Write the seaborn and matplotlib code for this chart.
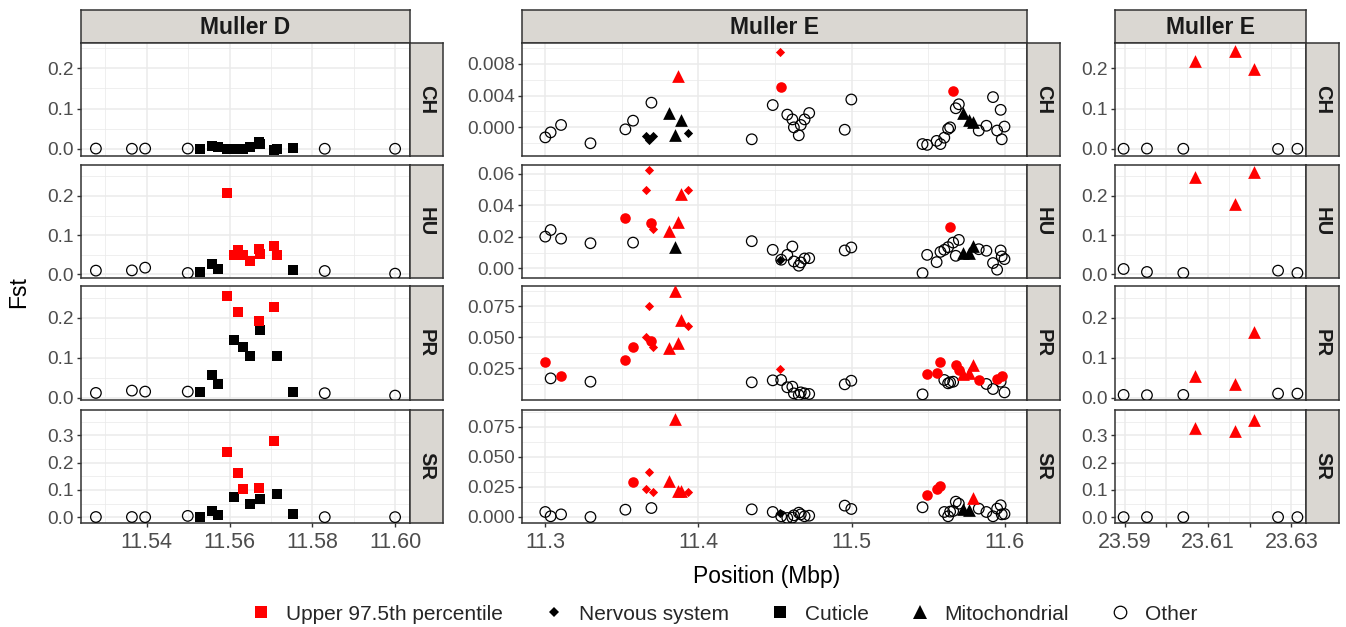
import numpy as np
import pandas as pd
import matplotlib
matplotlib.use("Agg")
import matplotlib.pyplot as plt
import seaborn as sns
from matplotlib.lines import Line2D

sns.set_theme(style="white")
plt.rcParams["font.family"] = ["Liberation Sans", "DejaVu Sans"]

populations = ["CH", "HU", "PR", "SR"]
legend_labels = ["Upper 97.5th percentile", "Nervous system", "Cuticle", "Mitochondrial", "Other"]
column_titles = ["Muller D", "Muller E", "Muller E"]

# ---------------- Muller D (first column) ----------------
d_pos = [11.5277, 11.5364, 11.5396, 11.5499, 11.5529, 11.5558, 11.5573, 11.5594,
         11.5611, 11.5621, 11.5633, 11.5649, 11.5670, 11.5674, 11.5707, 11.5715,
         11.5753, 11.5830, 11.6000]
d_type = ["O", "O", "O", "O", "C", "C", "C", "C", "C", "C", "C", "C", "C", "C", "C", "C", "C", "O", "O"]
d_fst_ch = [0.001, 0.0005, 0.001, 0.001, 0.000, 0.0075, 0.004, 0.001, 0.001, 0.000, 0.001,
            0.004, 0.0165, 0.012, -0.002, 0.000, 0.002, 0.0005, 0.0005]
d_fst_hu = [0.0094, 0.010, 0.017, 0.0034, 0.006, 0.0255, 0.0128, 0.2085, 0.050, 0.063, 0.050,
            0.033, 0.0647, 0.053, 0.073, 0.0485, 0.010, 0.0085, 0.0017]
d_fst_pr = [0.0117, 0.0175, 0.015, 0.015, 0.015, 0.057, 0.034, 0.254, 0.144, 0.213, 0.1275,
            0.105, 0.192, 0.169, 0.227, 0.103, 0.014, 0.011, 0.005]
d_fst_sr = [0.001, 0.001, 0.0005, 0.005, 0.001, 0.024, 0.007, 0.239, 0.074, 0.163, 0.105,
            0.050, 0.108, 0.068, 0.278, 0.087, 0.012, 0.0005, 0.0005]
d_top_ch = [0, 0, 0, 0, 0, 0, 0, 0, 0, 0, 0, 0, 0, 0, 0, 0, 0, 0, 0]
d_top_hu = [0, 0, 0, 0, 0, 0, 0, 1, 1, 1, 1, 1, 1, 1, 1, 1, 0, 0, 0]
d_top_pr = [0, 0, 0, 0, 0, 0, 0, 1, 0, 1, 0, 0, 1, 0, 1, 0, 0, 0, 0]
d_top_sr = [0, 0, 0, 0, 0, 0, 0, 1, 0, 1, 1, 0, 1, 0, 1, 0, 0, 0, 0]

# ---------------- Muller E, 11.3-11.6 Mbp (second column) ----------------
e1_pos = [11.3000, 11.3035, 11.3103, 11.3295, 11.3523, 11.3573, 11.3693, 11.3660, 11.3675,
          11.3705, 11.3810, 11.3845, 11.3868, 11.3888, 11.3930, 11.4348, 11.4485, 11.4535,
          11.4540, 11.4580, 11.4613, 11.4623, 11.4655, 11.4668, 11.4693, 11.4723, 11.4955,
          11.4998, 11.5463, 11.5493, 11.5555, 11.5580, 11.5605, 11.5630, 11.5643, 11.5663,
          11.5680, 11.5700, 11.5730, 11.5768, 11.5793, 11.5830, 11.5880, 11.5923, 11.5950,
          11.5973, 11.5980, 11.5998]
e1_type = ["O", "O", "O", "O", "O", "O", "O", "N", "N", "N", "M", "M", "M", "M", "N", "O",
           "O", "N", "O", "O", "O", "O", "O", "O", "O", "O", "O", "O", "O", "O", "O", "O",
           "O", "O", "O", "O", "O", "O", "M", "M", "M", "O", "O", "O", "O", "O", "O", "O"]
e1_fst_ch = [-0.00126, -0.00063, 0.0003, -0.002, -0.00025, 0.00084, 0.0031, -0.0011, -0.0016,
             -0.0011, 0.0018, -0.0009, 0.0064, 0.0009, -0.0007, -0.0015, 0.0028, 0.0095,
             0.0051, 0.0016, 0.0010, 0.0000, -0.0010, 0.0003, 0.0010, 0.0018, -0.0003, 0.0035,
             -0.0021, -0.0022, -0.0017, -0.0021, -0.0013, -0.0002, 0.0000, 0.0046, 0.0024,
             0.0029, 0.0018, 0.0009, 0.0007, -0.0004, 0.0002, 0.0038, -0.0004, 0.0022,
             -0.0015, 0.0001]
e1_fst_hu = [0.0202, 0.0244, 0.0189, 0.0160, 0.0318, 0.0164, 0.0290, 0.0497, 0.0623, 0.0250,
             0.0240, 0.0135, 0.0293, 0.0470, 0.0500, 0.0173, 0.0118, 0.0055, 0.0055, 0.0086,
             0.0139, 0.0044, 0.0017, 0.0038, 0.0063, 0.0065, 0.0114, 0.0133, -0.0030, 0.0086,
             0.0040, 0.0105, 0.0118, 0.0135, 0.0265, 0.0164, 0.0080, 0.0181, 0.0097, 0.0097,
             0.0143, 0.0122, 0.0112, 0.0034, -0.0008, 0.0114, 0.0076, 0.0059]
e1_fst_pr = [0.0298, 0.0169, 0.0191, 0.0142, 0.0315, 0.0425, 0.0473, 0.0500, 0.0756, 0.0420,
             0.0417, 0.0874, 0.0452, 0.0640, 0.0594, 0.0137, 0.0153, 0.0245, 0.0156, 0.0097,
             0.0102, 0.0048, 0.0035, 0.0056, 0.0048, 0.0043, 0.0121, 0.0150, 0.0040, 0.0202,
             0.0215, 0.0298, 0.0156, 0.0129, 0.0137, 0.0142, 0.0277, 0.0237, 0.0202, 0.0210,
             0.0277, 0.0156, 0.0124, 0.0083, 0.0161, 0.0142, 0.0191, 0.0056]
e1_fst_sr = [0.0039, 0.0003, 0.0019, -0.0003, 0.0058, 0.0286, 0.0072, 0.0234, 0.0375, 0.0206,
             0.0295, 0.0812, 0.0217, 0.0217, 0.0206, 0.0061, 0.0039, 0.0030, 0.0003, -0.0011,
             -0.0008, 0.0011, 0.0033, 0.0019, 0.0003, 0.0008, 0.0092, 0.0064, 0.0078, 0.0178,
             0.0230, 0.0253, 0.0039, 0.0003, 0.0042, 0.0047, 0.0125, 0.0108, 0.0067, 0.0058,
             0.0158, 0.0067, 0.0039, 0.0003, 0.0067, 0.0095, 0.0019, 0.0022]
e1_top_ch = [0, 0, 0, 0, 0, 0, 0, 0, 0, 0, 0, 0, 1, 0, 0, 0, 0, 1, 1, 0, 0, 0, 0, 0,
             0, 0, 0, 0, 0, 0, 0, 0, 0, 0, 0, 1, 0, 0, 0, 0, 0, 0, 0, 0, 0, 0, 0, 0]
e1_top_hu = [0, 0, 0, 0, 1, 0, 1, 1, 1, 1, 1, 0, 1, 1, 1, 0, 0, 0, 0, 0, 0, 0, 0, 0,
             0, 0, 0, 0, 0, 0, 0, 0, 0, 0, 1, 0, 0, 0, 0, 0, 0, 0, 0, 0, 0, 0, 0, 0]
e1_top_pr = [1, 0, 1, 0, 1, 1, 1, 1, 1, 1, 1, 1, 1, 1, 1, 0, 0, 1, 0, 0, 0, 0, 0, 0,
             0, 0, 0, 0, 0, 1, 1, 1, 0, 0, 0, 0, 1, 1, 1, 1, 1, 1, 0, 0, 1, 0, 1, 0]
e1_top_sr = [0, 0, 0, 0, 0, 1, 0, 1, 1, 1, 1, 1, 1, 1, 1, 0, 0, 0, 0, 0, 0, 0, 0, 0,
             0, 0, 0, 0, 0, 1, 1, 1, 0, 0, 0, 0, 0, 0, 0, 0, 1, 0, 0, 0, 0, 0, 0, 0]

# ---------------- Muller E, 23.59-23.63 Mbp (third column) ----------------
e2_pos = [23.58976, 23.59536, 23.60408, 23.60696, 23.61656, 23.62104, 23.62680, 23.63144]
e2_type = ["O", "O", "O", "M", "M", "M", "O", "O"]
e2_fst_ch = [0.0005, 0.0010, 0.0005, 0.218, 0.241, 0.198, 0.0000, 0.0005]
e2_fst_hu = [0.0136, 0.0060, 0.0034, 0.2485, 0.179, 0.261, 0.0094, 0.0034]
e2_fst_pr = [0.0067, 0.0060, 0.0067, 0.0536, 0.035, 0.163, 0.0100, 0.0100]
e2_fst_sr = [0.0005, 0.0005, 0.0005, 0.326, 0.315, 0.358, 0.0005, 0.0005]
e2_top_ch = [0, 0, 0, 1, 1, 1, 0, 0]
e2_top_hu = [0, 0, 0, 1, 1, 1, 0, 0]
e2_top_pr = [0, 0, 0, 1, 1, 1, 0, 0]
e2_top_sr = [0, 0, 0, 1, 1, 1, 0, 0]

# tick labels
d_xticks = [11.54, 11.56, 11.58, 11.60]
d_xlabels = ["11.54", "11.56", "11.58", "11.60"]
e1_xticks = [11.3, 11.4, 11.5, 11.6]
e1_xlabels = ["11.3", "11.4", "11.5", "11.6"]
e2_xticks = [23.59, 23.60, 23.61, 23.62, 23.63]
e2_xlabels = ["23.59", "", "23.61", "", "23.63"]

# ---------------- assemble long tables ----------------
def long_table(pos, typ, fst_lists, top_lists):
    frames = []
    for pop, f, t in zip(populations, fst_lists, top_lists):
        frames.append(pd.DataFrame({"pos": pos, "type": typ, "fst": f, "top": t, "pop": pop}))
    return pd.concat(frames, ignore_index=True)

tables = [
    long_table(d_pos, d_type, [d_fst_ch, d_fst_hu, d_fst_pr, d_fst_sr],
               [d_top_ch, d_top_hu, d_top_pr, d_top_sr]),
    long_table(e1_pos, e1_type, [e1_fst_ch, e1_fst_hu, e1_fst_pr, e1_fst_sr],
               [e1_top_ch, e1_top_hu, e1_top_pr, e1_top_sr]),
    long_table(e2_pos, e2_type, [e2_fst_ch, e2_fst_hu, e2_fst_pr, e2_fst_sr],
               [e2_top_ch, e2_top_hu, e2_top_pr, e2_top_sr]),
]

# ---------------- layout / style ----------------
W, H = 1346, 627
fig = plt.figure(figsize=(W / 100, H / 100), dpi=100)

def rect(x0, x1, y0, y1):
    return [x0 / W, 1 - y1 / H, (x1 - x0) / W, (y1 - y0) / H]

col_x = [(81, 410), (522, 1027), (1115, 1306)]
row_y = [(43, 156), (165, 278), (286, 400), (410, 523)]
STRIP_W = 33
STRIP_FILL = "#DAD7D2"
EDGE = "#333333"
GRID = "#EBEBEB"
TICKC = "#4D4D4D"
RED = "#FF0000"

xlims = [(11.5241, 11.6036), (11.2848, 11.6145), (23.5877, 23.6335)]
xticks = [(d_xticks, d_xlabels), (e1_xticks, e1_xlabels), (e2_xticks, e2_xlabels)]

ylim_de = [(-0.0174, 0.262), (-0.0094, 0.279), (-0.006, 0.279), (-0.021, 0.393)]
yt_de = [[0, 0.1, 0.2], [0, 0.1, 0.2], [0, 0.1, 0.2], [0, 0.1, 0.2, 0.3]]
fmt_de = ["{:.1f}"] * 4
ylim_e1 = [(-0.0036, 0.0106), (-0.0061, 0.0657), (-0.00055, 0.0914), (-0.0053, 0.089)]
yt_e1 = [[0, 0.004, 0.008], [0, 0.02, 0.04, 0.06], [0.025, 0.05, 0.075], [0, 0.025, 0.05, 0.075]]
fmt_e1 = ["{:.3f}", "{:.2f}", "{:.3f}", "{:.3f}"]
ylims = [ylim_de, ylim_e1, ylim_de]
yts = [yt_de, yt_e1, yt_de]
fmts = [fmt_de, fmt_e1, fmt_de]

def minor_breaks(major, lim):
    major = np.asarray(major, dtype=float)
    step = major[1] - major[0]
    ext = np.concatenate([[major[0] - step], major, [major[-1] + step]])
    mids = (ext[:-1] + ext[1:]) / 2
    return [m for m in mids if lim[0] <= m <= lim[1]]

shape_spec = {"O": ("o", 58), "C": ("s", 62), "N": ("D", 22), "M": ("^", 84)}

for ci, tbl in enumerate(tables):
    x0, x1 = col_x[ci]
    # top strip
    sax = fig.add_axes(rect(x0, x1, 10, 43))
    sax.set_facecolor(STRIP_FILL)
    sax.set_xticks([]); sax.set_yticks([])
    for s in sax.spines.values():
        s.set_color(EDGE); s.set_linewidth(1.1)
    sax.text(0.5, 0.47, column_titles[ci], ha="center", va="center", fontsize=16.5,
             fontweight="bold", color="#1A1A1A", transform=sax.transAxes)
    for ri, pop in enumerate(populations):
        y0, y1 = row_y[ri]
        ax = fig.add_axes(rect(x0, x1, y0, y1))
        sub = tbl[tbl["pop"] == pop]
        # open circles (other, not outliers)
        oc = sub[(sub["type"] == "O") & (sub["top"] == 0)]
        sns.scatterplot(data=oc, x="pos", y="fst", ax=ax, marker="o", s=58, color="black",
                        facecolors="none", edgecolor="black", linewidth=0.9, legend=False,
                        zorder=3)
        for code in ["O", "C", "N", "M"]:
            mk, sz = shape_spec[code]
            for flag, col in [(0, "black"), (1, RED)]:
                if code == "O" and flag == 0:
                    continue
                part = sub[(sub["type"] == code) & (sub["top"] == flag)]
                if len(part) == 0:
                    continue
                sns.scatterplot(data=part, x="pos", y="fst", ax=ax, marker=mk, s=sz,
                                color=col, edgecolor=col, linewidth=0, legend=False, zorder=3)
        ax.set_xlabel(""); ax.set_ylabel("")
        xl = xlims[ci]; yl = ylims[ci][ri]
        ax.set_xlim(xl); ax.set_ylim(yl)
        xt, xlab = xticks[ci]
        ax.set_xticks(xt)
        ax.set_xticks(minor_breaks(xt, xl), minor=True)
        yt = yts[ci][ri]
        ax.set_yticks(yt)
        ax.set_yticklabels([fmts[ci][ri].format(v) for v in yt])
        ax.set_yticks(minor_breaks(yt, yl), minor=True)
        ax.grid(True, which="major", color=GRID, linewidth=1.1)
        ax.grid(True, which="minor", color=GRID, linewidth=0.55)
        ax.set_axisbelow(True)
        ax.set_facecolor("white")
        for s in ax.spines.values():
            s.set_color(EDGE); s.set_linewidth(1.1)
        ax.tick_params(which="minor", length=0)
        ax.tick_params(axis="y", which="major", left=True, length=3.2, width=1.0, color=EDGE,
                       labelcolor=TICKC, labelsize=13.8, pad=2)
        if ri == 3:
            ax.set_xticklabels(xlab)
            ax.tick_params(axis="x", which="major", bottom=True, length=3.2, width=1.0,
                           color=EDGE, labelcolor=TICKC, labelsize=15.5, pad=3)
        else:
            ax.tick_params(axis="x", which="major", bottom=False, labelbottom=False)
        # right strip
        rax = fig.add_axes(rect(x1, x1 + STRIP_W, y0, y1))
        rax.set_facecolor(STRIP_FILL)
        rax.set_xticks([]); rax.set_yticks([])
        for s in rax.spines.values():
            s.set_color(EDGE); s.set_linewidth(1.1)
        rax.text(0.5, 0.5, pop, ha="center", va="center", rotation=-90, fontsize=14.5,
                 fontweight="bold", color="#1A1A1A", transform=rax.transAxes)

fig.text(767 / W, 1 - 577 / H, "Position (Mbp)", ha="center", va="center", fontsize=16.5,
         color="black")
fig.text(19 / W, 1 - 292 / H, "Fst", ha="center", va="center", rotation=90, fontsize=16.5,
         color="black")

handles = [
    Line2D([], [], ls="", marker="s", color=RED, markersize=9, mew=0),
    Line2D([], [], ls="", marker="D", color="black", markersize=5, mew=0),
    Line2D([], [], ls="", marker="s", color="black", markersize=9, mew=0),
    Line2D([], [], ls="", marker="^", color="black", markersize=9.5, mew=0),
    Line2D([], [], ls="", marker="o", color="black", markerfacecolor="none", markersize=9,
           mew=0.9),
]
fig.legend(handles, legend_labels, loc="center", bbox_to_anchor=(725 / W, 1 - 614 / H), ncol=5,
           frameon=False, fontsize=15, handlelength=0.8, handletextpad=0.8, columnspacing=2.05,
           borderaxespad=0)

fig.savefig("out.png", dpi=100)
